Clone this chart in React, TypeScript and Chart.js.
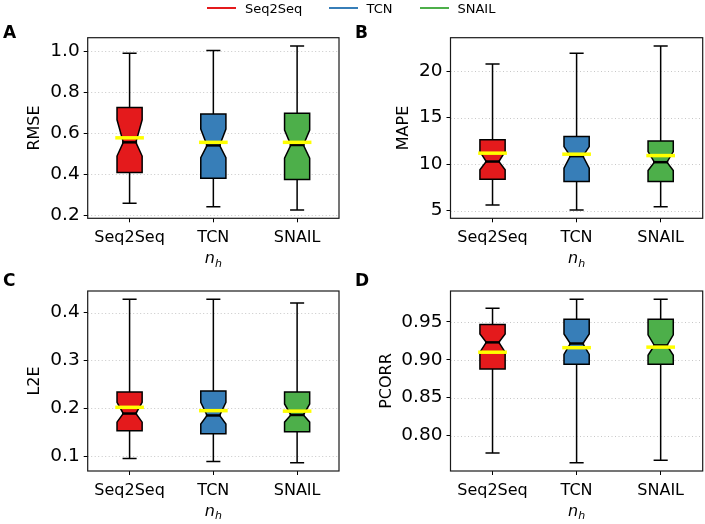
import React, { useEffect, useRef } from "react";
import { Chart, registerables } from "chart.js";

Chart.register(...registerables);

const FONT = "DejaVu Sans";

const categories = ["Seq2Seq", "TCN", "SNAIL"];
const boxColors = ["#e41a1c", "#377eb8", "#4daf4a"];

// Panel A: RMSE
const rmseWhiskerLow = [0.257, 0.24, 0.224];
const rmseQ1 = [0.408, 0.38, 0.374];
const rmseNotchLow = [0.488, 0.48, 0.478];
const rmseMedian = [0.555, 0.54, 0.542];
const rmseNotchHigh = [0.665, 0.62, 0.615];
const rmseQ3 = [0.725, 0.693, 0.697];
const rmseWhiskerHigh = [0.99, 1.004, 1.026];
const rmseMean = [0.577, 0.555, 0.555];
const rmseTicks = [0.2, 0.4, 0.6, 0.8, 1.0];
const rmseTickLabels = ["0.2", "0.4", "0.6", "0.8", "1.0"];

// Panel B: MAPE
const mapeWhiskerLow = [5.59, 5.05, 5.41];
const mapeQ1 = [8.37, 8.12, 8.12];
const mapeNotchLow = [9.38, 9.56, 9.3];
const mapeMedian = [10.27, 10.85, 10.2];
const mapeNotchHigh = [11.34, 11.88, 11.34];
const mapeQ3 = [12.6, 12.96, 12.49];
const mapeWhiskerHigh = [20.75, 21.9, 22.7];
const mapeMean = [11.17, 11.06, 10.91];
const mapeTicks = [5, 10, 15, 20];
const mapeTickLabels = ["5", "10", "15", "20"];

// Panel C: L2E
const l2eWhiskerLow = [0.095, 0.089, 0.086];
const l2eQ1 = [0.153, 0.147, 0.151];
const l2eNotchLow = [0.171, 0.167, 0.171];
const l2eMedian = [0.189, 0.185, 0.186];
const l2eNotchHigh = [0.2125, 0.2125, 0.209];
const l2eQ3 = [0.234, 0.236, 0.234];
const l2eWhiskerHigh = [0.428, 0.428, 0.42];
const l2eMean = [0.202, 0.195, 0.194];
const l2eTicks = [0.1, 0.2, 0.3, 0.4];
const l2eTickLabels = ["0.1", "0.2", "0.3", "0.4"];

// Panel D: PCORR
const pcorrWhiskerLow = [0.777, 0.764, 0.7675];
const pcorrQ1 = [0.888, 0.894, 0.894];
const pcorrNotchLow = [0.91, 0.907, 0.906];
const pcorrMedian = [0.923, 0.9215, 0.919];
const pcorrNotchHigh = [0.934, 0.934, 0.933];
const pcorrQ3 = [0.9465, 0.9535, 0.9535];
const pcorrWhiskerHigh = [0.968, 0.98, 0.98];
const pcorrMean = [0.91, 0.916, 0.9167];
const pcorrTicks = [0.8, 0.85, 0.9, 0.95];
const pcorrTickLabels = ["0.80", "0.85", "0.90", "0.95"];

type Panel = {
  id: string;
  letter: string;
  yTitle: string;
  whiskerLow: number[];
  q1: number[];
  notchLow: number[];
  median: number[];
  notchHigh: number[];
  q3: number[];
  whiskerHigh: number[];
  mean: number[];
  ticks: number[];
  tickLabels: string[];
  // layout
  left: number;
  top: number;
  width: number;
  height: number;
  padTop: number;
  padRight: number;
  yAxisWidth: number;
  xAxisHeight: number;
  titleCenter: number;
};

const panels: Panel[] = [
  {
    id: "A", letter: "A", yTitle: "RMSE",
    whiskerLow: rmseWhiskerLow, q1: rmseQ1, notchLow: rmseNotchLow, median: rmseMedian,
    notchHigh: rmseNotchHigh, q3: rmseQ3, whiskerHigh: rmseWhiskerHigh, mean: rmseMean,
    ticks: rmseTicks, tickLabels: rmseTickLabels,
    left: 0, top: 12, width: 345, height: 260, padTop: 25.7, padRight: 6, yAxisWidth: 87.7, xAxisHeight: 53.7, titleCenter: 35,
  },
  {
    id: "B", letter: "B", yTitle: "MAPE",
    whiskerLow: mapeWhiskerLow, q1: mapeQ1, notchLow: mapeNotchLow, median: mapeMedian,
    notchHigh: mapeNotchHigh, q3: mapeQ3, whiskerHigh: mapeWhiskerHigh, mean: mapeMean,
    ticks: mapeTicks, tickLabels: mapeTickLabels,
    left: 352, top: 12, width: 353, height: 260, padTop: 25.7, padRight: 2.3, yAxisWidth: 98.5, xAxisHeight: 53.7, titleCenter: 51.8,
  },
  {
    id: "C", letter: "C", yTitle: "L2E",
    whiskerLow: l2eWhiskerLow, q1: l2eQ1, notchLow: l2eNotchLow, median: l2eMedian,
    notchHigh: l2eNotchHigh, q3: l2eQ3, whiskerHigh: l2eWhiskerHigh, mean: l2eMean,
    ticks: l2eTicks, tickLabels: l2eTickLabels,
    left: 0, top: 266, width: 345, height: 258, padTop: 25, padRight: 6, yAxisWidth: 87.7, xAxisHeight: 53, titleCenter: 35,
  },
  {
    id: "D", letter: "D", yTitle: "PCORR",
    whiskerLow: pcorrWhiskerLow, q1: pcorrQ1, notchLow: pcorrNotchLow, median: pcorrMedian,
    notchHigh: pcorrNotchHigh, q3: pcorrQ3, whiskerHigh: pcorrWhiskerHigh, mean: pcorrMean,
    ticks: pcorrTicks, tickLabels: pcorrTickLabels,
    left: 352, top: 266, width: 353, height: 258, padTop: 25, padRight: 2.3, yAxisWidth: 98.5, xAxisHeight: 53, titleCenter: 35,
  },
];

function makeBoxPlugin(p: Panel) {
  return {
    id: "notchedBoxes" + p.id,
    beforeDatasetsDraw(chart: any) {
      const { ctx, chartArea } = chart;
      const y = chart.scales.y;
      ctx.save();
      ctx.strokeStyle = "rgba(0,0,0,0.22)";
      ctx.lineWidth = 1;
      ctx.setLineDash([1, 2.5]);
      p.ticks.forEach((v) => {
        const py = Math.round(y.getPixelForValue(v)) + 0.5;
        ctx.beginPath();
        ctx.moveTo(chartArea.left, py);
        ctx.lineTo(chartArea.right, py);
        ctx.stroke();
      });
      ctx.restore();
    },
    afterDatasetsDraw(chart: any) {
      const { ctx } = chart;
      const y = chart.scales.y;
      const meta = chart.getDatasetMeta(0);
      ctx.save();
      ctx.setLineDash([]);
      categories.forEach((_, i) => {
        const el = meta.data[i];
        const cx = el.x;
        const w = el.width;
        const L = cx - w / 2;
        const R = cx + w / 2;
        const cL = cx - w / 4;
        const cR = cx + w / 4;
        const py = (v: number) => y.getPixelForValue(v);

        // whiskers
        ctx.strokeStyle = "#000";
        ctx.lineWidth = 1.5;
        ctx.lineCap = "butt";
        ctx.beginPath();
        ctx.moveTo(cx, py(p.q3[i]));
        ctx.lineTo(cx, py(p.whiskerHigh[i]));
        ctx.moveTo(cx, py(p.q1[i]));
        ctx.lineTo(cx, py(p.whiskerLow[i]));
        ctx.stroke();
        // caps
        ctx.lineCap = "square";
        ctx.beginPath();
        ctx.moveTo(cL, py(p.whiskerHigh[i]));
        ctx.lineTo(cR, py(p.whiskerHigh[i]));
        ctx.moveTo(cL, py(p.whiskerLow[i]));
        ctx.lineTo(cR, py(p.whiskerLow[i]));
        ctx.stroke();

        // notched box
        ctx.lineCap = "butt";
        ctx.lineJoin = "miter";
        ctx.beginPath();
        ctx.moveTo(L, py(p.q1[i]));
        ctx.lineTo(L, py(p.notchLow[i]));
        ctx.lineTo(cL, py(p.median[i]));
        ctx.lineTo(L, py(p.notchHigh[i]));
        ctx.lineTo(L, py(p.q3[i]));
        ctx.lineTo(R, py(p.q3[i]));
        ctx.lineTo(R, py(p.notchHigh[i]));
        ctx.lineTo(cR, py(p.median[i]));
        ctx.lineTo(R, py(p.notchLow[i]));
        ctx.lineTo(R, py(p.q1[i]));
        ctx.closePath();
        ctx.fillStyle = boxColors[i];
        ctx.fill();
        ctx.lineWidth = 1.5;
        ctx.strokeStyle = "#000";
        ctx.stroke();

        // median
        ctx.lineCap = "square";
        ctx.lineWidth = 2.5;
        ctx.beginPath();
        ctx.moveTo(cL, py(p.median[i]));
        ctx.lineTo(cR, py(p.median[i]));
        ctx.stroke();

        // mean
        ctx.strokeStyle = "#ffff00";
        ctx.lineWidth = 3.5;
        ctx.beginPath();
        ctx.moveTo(L, py(p.mean[i]));
        ctx.lineTo(R, py(p.mean[i]));
        ctx.stroke();
      });
      ctx.restore();
    },
    afterDraw(chart: any) {
      const { ctx, chartArea } = chart;
      ctx.save();
      ctx.strokeStyle = "#1a1a1a";
      ctx.lineWidth = 1.2;
      ctx.setLineDash([]);
      ctx.strokeRect(chartArea.left, chartArea.top, chartArea.right - chartArea.left, chartArea.bottom - chartArea.top);
      ctx.restore();
    },
  };
}

function BoxPanel({ p }: { p: Panel }) {
  const ref = useRef<HTMLCanvasElement>(null);
  useEffect(() => {
    const canvas = ref.current;
    if (!canvas) return;
    const lo = Math.min(...p.whiskerLow);
    const hi = Math.max(...p.whiskerHigh);
    const margin = (hi - lo) * 0.05;
    const chart = new Chart(canvas, {
      type: "bar",
      data: {
        labels: categories,
        datasets: [
          {
            data: p.q1.map((v, i) => [v, p.q3[i]]) as any,
            backgroundColor: "rgba(0,0,0,0)",
            borderWidth: 0,
            barPercentage: 0.3,
            categoryPercentage: 1,
          },
        ],
      },
      options: {
        responsive: false,
        animation: false,
        devicePixelRatio: 1,
        events: [],
        layout: { padding: { top: p.padTop, right: p.padRight, left: 0, bottom: 0 } },
        plugins: { legend: { display: false }, tooltip: { enabled: false } },
        scales: {
          x: {
            type: "category",
            offset: true,
            grid: { offset: false, drawOnChartArea: false, drawTicks: true, tickLength: 4, tickColor: "#000", tickWidth: 1 },
            border: { display: false },
            ticks: { font: { family: FONT, size: 16 }, color: "#000", padding: 6, maxRotation: 0, autoSkip: false },
            afterFit: (s: any) => {
              s.height = p.xAxisHeight;
            },
          },
          y: {
            type: "linear",
            min: lo - margin,
            max: hi + margin,
            beginAtZero: false,
            grid: { drawOnChartArea: false, drawTicks: true, tickLength: 4, tickColor: "#000", tickWidth: 1 },
            border: { display: false },
            ticks: {
              font: { family: FONT, size: 18.5 },
              color: "#000",
              padding: 4,
              callback: (_v: any, i: number) => p.tickLabels[i],
            },
            afterBuildTicks: (s: any) => {
              s.ticks = p.ticks.map((v) => ({ value: v }));
            },
            afterFit: (s: any) => {
              s.width = p.yAxisWidth;
            },
            title: {
              display: true,
              text: p.yTitle,
              font: { family: FONT, size: 16 },
              color: "#000",
              padding: { top: p.titleCenter - 9.6, bottom: 0 },
            },
          },
        },
      } as any,
      plugins: [makeBoxPlugin(p)],
    });
    return () => chart.destroy();
  }, []);
  return (
    <canvas
      ref={ref}
      width={p.width}
      height={p.height}
      style={{ position: "absolute", left: p.left, top: p.top, width: p.width, height: p.height }}
    />
  );
}

const legendItems = [
  { label: "Seq2Seq", color: boxColors[0], lineLeft: 207, textLeft: 245 },
  { label: "TCN", color: boxColors[1], lineLeft: 329, textLeft: 366.5 },
  { label: "SNAIL", color: boxColors[2], lineLeft: 420, textLeft: 457.5 },
];

const letterPos = [
  { letter: "A", left: 3, top: 24 },
  { letter: "B", left: 355, top: 24 },
  { letter: "C", left: 3, top: 271.5 },
  { letter: "D", left: 355, top: 271.5 },
];

const xLabelPos = [
  { cx: 213.3, top: 250 },
  { cx: 576.6, top: 250 },
  { cx: 213.3, top: 502.5 },
  { cx: 576.6, top: 502.5 },
];

export default function App() {
  return (
    <div
      style={{
        position: "fixed",
        left: 0,
        top: 0,
        width: 705,
        height: 524,
        background: "#fff",
        overflow: "hidden",
        fontFamily: FONT,
      }}
    >
      {panels.map((p) => (
        <BoxPanel key={p.id} p={p} />
      ))}
      {legendItems.map((it) => (
        <React.Fragment key={it.label}>
          <div
            style={{
              position: "absolute",
              left: it.lineLeft,
              top: 6.5,
              width: 29,
              height: 2,
              background: it.color,
            }}
          />
          <div
            style={{
              position: "absolute",
              left: it.textLeft,
              top: 2.3,
              fontSize: 13,
              lineHeight: "13px",
              color: "#000",
              whiteSpace: "nowrap",
            }}
          >
            {it.label}
          </div>
        </React.Fragment>
      ))}
      {letterPos.map((l) => (
        <div
          key={l.letter}
          style={{
            position: "absolute",
            left: l.left,
            top: l.top,
            fontSize: 17,
            lineHeight: "17px",
            fontWeight: "bold",
            color: "#000",
          }}
        >
          {l.letter}
        </div>
      ))}
      {xLabelPos.map((pos, i) => (
        <div
          key={"xl" + i}
          style={{
            position: "absolute",
            left: pos.cx,
            top: pos.top,
            transform: "translateX(-50%)",
            fontSize: 16,
            lineHeight: "16px",
            fontStyle: "italic",
            color: "#000",
            whiteSpace: "nowrap",
          }}
        >
          n
          <span style={{ fontSize: 11, position: "relative", top: 3.5 }}>h</span>
        </div>
      ))}
    </div>
  );
}
